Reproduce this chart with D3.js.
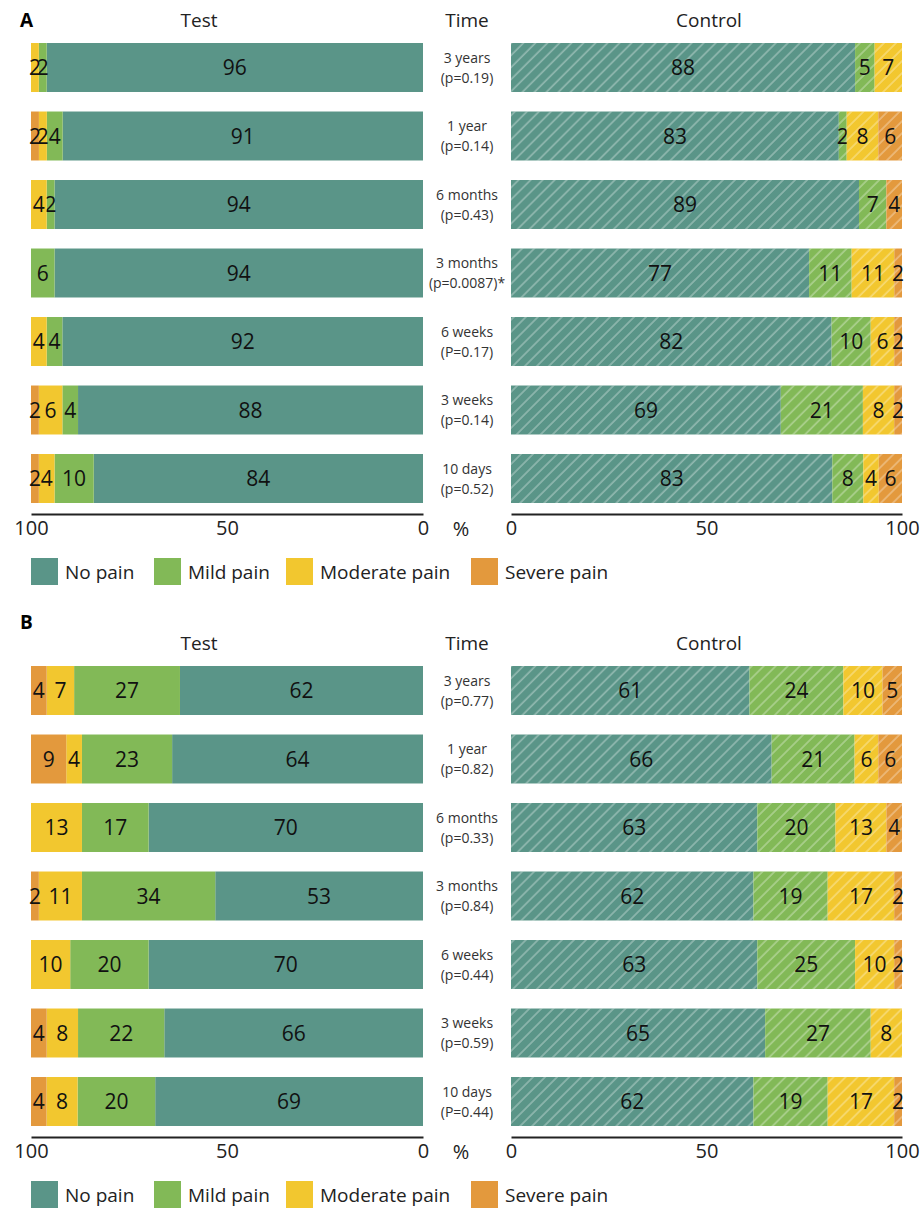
<!DOCTYPE html>
<html>
<head>
<meta charset="utf-8">
<script src="https://cdn.jsdelivr.net/npm/d3@7"></script>
<style>
  body { margin: 0; background: #fff; }
  text { font-family: 'Open Sans', 'Noto Sans', sans-serif; }
</style>
</head>
<body>
<script>
const times = ['3 years', '1 year', '6 months', '3 months', '6 weeks', '3 weeks', '10 days'];
const pvalsA = ['(p=0.19)', '(p=0.14)', '(p=0.43)', '(p=0.0087)*', '(P=0.17)', '(p=0.14)', '(p=0.52)'];
const pvalsB = ['(p=0.77)', '(p=0.82)', '(p=0.33)', '(p=0.84)', '(p=0.44)', '(p=0.59)', '(P=0.44)'];
const categories = ['No pain', 'Mild pain', 'Moderate pain', 'Severe pain'];
const colors = ['#5a9588', '#82b957', '#f2c72f', '#e3993d'];

// each row: no pain, mild, moderate, severe (%)
const testA = [[96, 2, 2, 0], [91, 4, 2, 2], [94, 2, 4, 0], [94, 6, 0, 0], [92, 4, 4, 0], [88, 4, 6, 2], [84, 10, 4, 2]];
const controlA = [[88, 5, 7, 0], [83, 2, 8, 6], [89, 7, 0, 4], [77, 11, 11, 2], [82, 10, 6, 2], [69, 21, 8, 2], [83, 8, 4, 6]];
const testB = [[62, 27, 7, 4], [64, 23, 4, 9], [70, 17, 13, 0], [53, 34, 11, 2], [70, 20, 10, 0], [66, 22, 8, 4], [69, 20, 8, 4]];
const controlB = [[61, 24, 10, 5], [66, 21, 6, 6], [63, 20, 13, 4], [62, 19, 17, 2], [63, 25, 10, 2], [65, 27, 8, 0], [62, 19, 17, 2]];
const ticks = [0, 50, 100];

const width = 921, height = 1208;
const svg = d3.select('body').append('svg')
    .attr('width', width)
    .attr('height', height);

const defs = svg.append('defs');
defs.append('pattern')
    .attr('id', 'hatch')
    .attr('patternUnits', 'userSpaceOnUse')
    .attr('width', 8.5)
    .attr('height', 8.5)
    .attr('patternTransform', 'rotate(45)')
    .append('line')
    .attr('x1', 1).attr('y1', 0).attr('x2', 1).attr('y2', 8.5)
    .attr('stroke', '#fff')
    .attr('stroke-opacity', 0.45)
    .attr('stroke-width', 1.2);

const xTest = d3.scaleLinear().domain([0, 100]).range([423, 31]);
const xCtrl = d3.scaleLinear().domain([0, 100]).range([511, 902]);
const y = d3.scaleBand().domain(times).range([33.25, 512.75]).paddingInner(0.285).paddingOuter(0.1425);
const stack = d3.stack().keys([0, 1, 2, 3]).offset(d3.stackOffsetExpand);

const drawSide = (g, rows, x, hatched) => {
    const series = stack(rows);
    const layer = g.selectAll(null)
        .data(series)
        .enter().append('g');
    const seg = layer.selectAll(null)
        .data((s, i) => s.map((d, j) => ({ k: i, j: j, a: d[0] * 100, b: d[1] * 100, v: rows[j][i] })))
        .enter();
    const rx = d => Math.min(x(d.a), x(d.b));
    const rw = d => Math.abs(x(d.b) - x(d.a));
    seg.append('rect')
        .attr('x', rx)
        .attr('y', d => y(times[d.j]))
        .attr('width', rw)
        .attr('height', y.bandwidth())
        .attr('fill', d => colors[d.k]);
    if (hatched) {
        seg.append('rect')
            .attr('x', rx)
            .attr('y', d => y(times[d.j]))
            .attr('width', rw)
            .attr('height', y.bandwidth())
            .attr('fill', 'url(#hatch)');
    }
    seg.filter(d => d.v > 0).append('text')
        .attr('x', d => (x(d.a) + x(d.b)) / 2)
        .attr('y', d => y(times[d.j]) + y.bandwidth() / 2)
        .attr('dy', '0.36em')
        .attr('text-anchor', 'middle')
        .style('font-size', '21px')
        .style('fill', '#111')
        .text(d => d.v);
};

const drawAxis = (g, x, yPos) => {
    const ax = g.append('g')
        .attr('transform', `translate(0, ${yPos})`)
        .call(d3.axisBottom(x).tickValues(ticks).tickSize(0).tickPadding(7).tickFormat(d3.format('d')));
    ax.select('.domain').attr('stroke', '#222').attr('stroke-width', 2);
    ax.selectAll('text').style('font-size', '20px').style('fill', '#222')
        .style('font-family', "'Open Sans', 'Noto Sans', sans-serif");
};

const drawPanel = (top, letter, letterY, test, control, pvals) => {
    const g = svg.append('g').attr('transform', `translate(0, ${top})`);

    g.append('text')
        .attr('x', 20).attr('y', letterY)
        .attr('dy', '0.36em')
        .style('font-weight', 'bold')
        .style('font-size', '19px')
        .text(letter);

    const headers = [['Test', 199], ['Time', 467], ['Control', 709]];
    g.selectAll(null)
        .data(headers)
        .enter().append('text')
        .attr('x', d => d[1])
        .attr('y', 20)
        .attr('dy', '0.36em')
        .attr('text-anchor', 'middle')
        .style('font-size', '19px')
        .style('fill', '#222')
        .text(d => d[0]);

    drawSide(g.append('g'), test, xTest, false);
    drawSide(g.append('g'), control, xCtrl, true);

    const tl = g.selectAll(null)
        .data(times)
        .enter().append('text')
        .attr('text-anchor', 'middle')
        .style('font-size', '14px')
        .style('fill', '#333');
    tl.append('tspan')
        .attr('x', 467)
        .attr('y', d => y(d) + y.bandwidth() / 2 - 10)
        .attr('dy', '0.36em')
        .text(d => d);
    tl.append('tspan')
        .attr('x', 467)
        .attr('y', d => y(d) + y.bandwidth() / 2 + 10)
        .attr('dy', '0.36em')
        .text((d, i) => pvals[i]);

    drawAxis(g, xTest, 514);
    drawAxis(g, xCtrl, 514);
    g.append('text')
        .attr('x', 461).attr('y', 529)
        .attr('dy', '0.36em')
        .attr('text-anchor', 'middle')
        .style('font-size', '20px')
        .style('fill', '#222')
        .text('%');

    const legendX = [31, 154, 286, 471];
    const lg = g.selectAll(null)
        .data(categories)
        .enter().append('g')
        .attr('transform', (d, i) => `translate(${legendX[i]}, 558)`);
    lg.append('rect')
        .attr('width', 27).attr('height', 27)
        .attr('fill', (d, i) => colors[i]);
    lg.append('text')
        .attr('x', 34).attr('y', 14)
        .attr('dy', '0.36em')
        .style('font-size', '19px')
        .style('fill', '#222')
        .text(d => d);
};

drawPanel(0, 'A', 20, testA, controlA, pvalsA);
drawPanel(623, 'B', -1, testB, controlB, pvalsB);
</script>
</body>
</html>
